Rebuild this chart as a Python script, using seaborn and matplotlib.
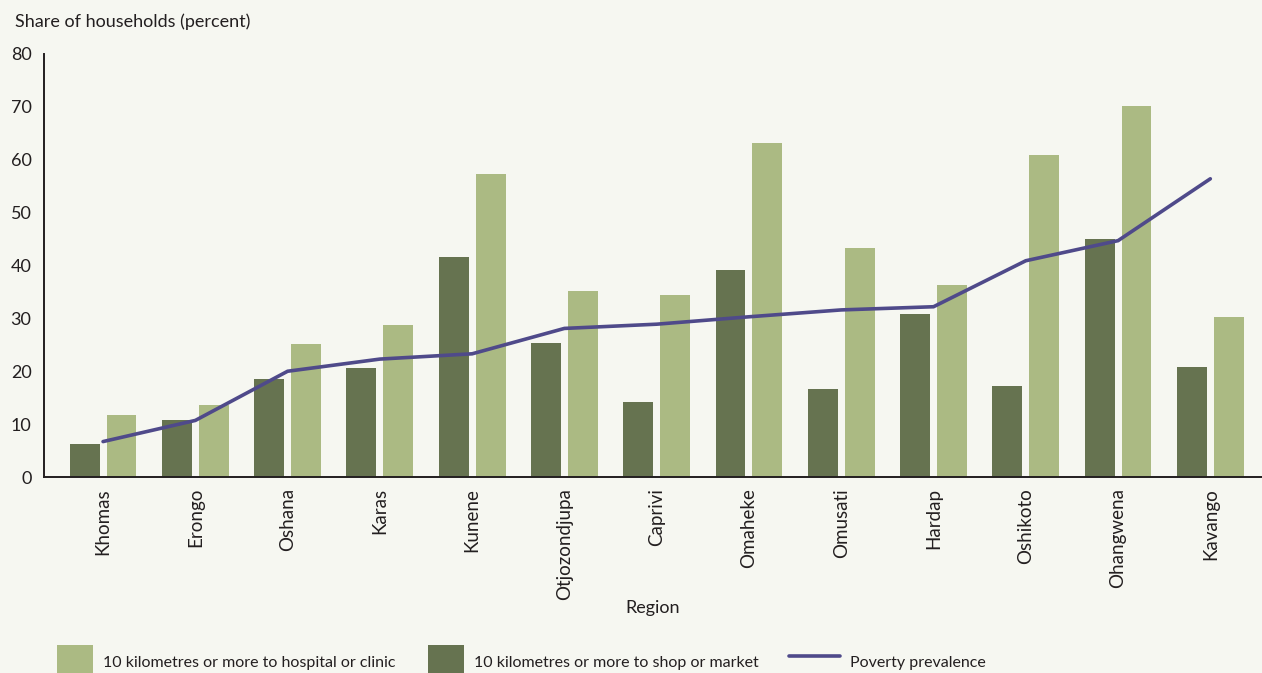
import matplotlib
matplotlib.use("Agg")
import matplotlib.pyplot as plt
import seaborn as sns
import pandas as pd
import numpy as np
from matplotlib.patches import Patch
from matplotlib.lines import Line2D

regions = ["Khomas", "Erongo", "Oshana", "Karas", "Kunene", "Otjozondjupa", "Caprivi",
           "Omaheke", "Omusati", "Hardap", "Oshikoto", "Ohangwena", "Kavango"]
hospital = [11.7, 13.6, 25.2, 28.7, 57.3, 35.2, 34.4, 63.2, 43.3, 36.3, 60.9, 70.2, 30.3]
shop = [6.2, 10.7, 18.5, 20.6, 41.6, 25.3, 14.2, 39.1, 16.6, 30.8, 17.2, 45.0, 20.8]
poverty = [6.7, 10.7, 20.0, 22.3, 23.3, 28.1, 28.9, 30.3, 31.6, 32.2, 40.9, 44.7, 56.4]

lab_h = "10 kilometres or more to hospital or clinic"
lab_s = "10 kilometres or more to shop or market"
lab_p = "Poverty prevalence"

BG = "#f6f7f1"
DARK = "#667350"
LIGHT = "#abba83"
LINE = "#4f4a8a"
TXT = "#231f20"

sns.set_theme(style="white")
plt.rcParams["font.family"] = ["Lato", "DejaVu Sans"]
plt.rcParams["text.color"] = TXT
plt.rcParams["axes.labelcolor"] = TXT
plt.rcParams["xtick.color"] = TXT
plt.rcParams["ytick.color"] = TXT

df = pd.DataFrame({
    "Region": regions * 2,
    "value": shop + hospital,
    "series": [lab_s] * len(regions) + [lab_h] * len(regions),
})

fig = plt.figure(figsize=(12.62, 6.73), dpi=100, facecolor=BG)
ax = fig.add_axes([44 / 1262, 1 - 477 / 673, 1 - 44 / 1262, (477 - 54) / 673])
ax.set_facecolor(BG)

sns.barplot(data=df, x="Region", y="value", hue="series", order=regions,
            hue_order=[lab_s, lab_h], palette=[DARK, LIGHT], width=0.8, gap=0.19,
            saturation=1, legend=False, linewidth=0, ax=ax)
ax.plot(np.arange(len(regions)), poverty, color=LINE, lw=2.6, solid_joinstyle="miter")

ax.set_ylim(0, 80)
ax.set_xlim(-0.64, 12.56)
ax.set_yticks(range(0, 81, 10))
ax.tick_params(axis="y", direction="in", length=11, width=1.2, labelsize=13, pad=9)
ax.tick_params(axis="x", length=0, labelsize=13.5, labelrotation=90, pad=8)
for s in ["top", "right"]:
    ax.spines[s].set_visible(False)
for s in ["left", "bottom"]:
    ax.spines[s].set_color(TXT)
    ax.spines[s].set_linewidth(1.4)
ax.set_ylabel("")
ax.set_xlabel("Region", fontsize=13)
ax.xaxis.set_label_coords(0.5, -0.29)

fig.text(15 / 1262, 1 - 22 / 673, "Share of households (percent)", fontsize=13,
         va="center", ha="left")

common = dict(loc="lower left", frameon=False, fontsize=11.5, borderpad=0,
              borderaxespad=0, handletextpad=0.6, handleheight=2.9)
fig.legend([Patch(facecolor=LIGHT, edgecolor="none")], [lab_h],
           bbox_to_anchor=(57 / 1262, -0.009), handlelength=2.25, **common)
fig.legend([Patch(facecolor=DARK, edgecolor="none")], [lab_s],
           bbox_to_anchor=(428 / 1262, -0.009), handlelength=2.25, **common)
fig.legend([Line2D([0], [0], color=LINE, lw=2.6)], [lab_p],
           bbox_to_anchor=(789 / 1262, -0.009), handlelength=3.2, **common)

fig.savefig("out.png", dpi=100, facecolor=BG)
